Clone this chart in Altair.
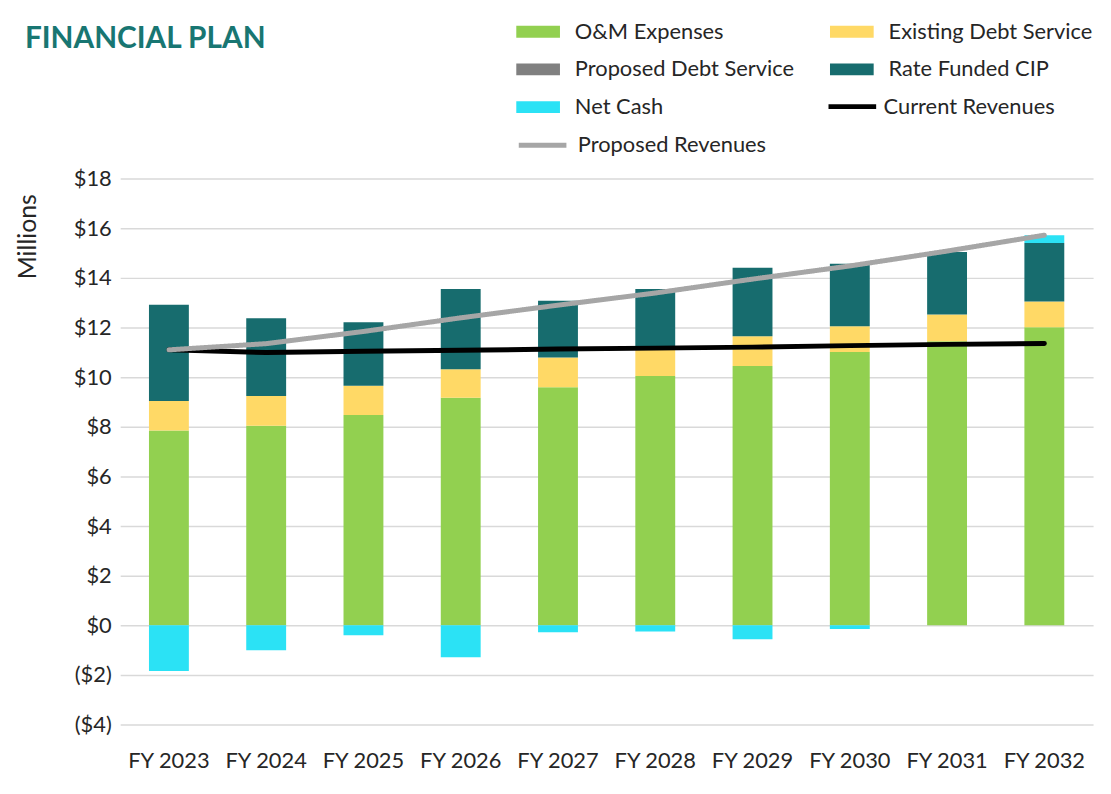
import altair as alt
import pandas as pd

years = ["FY 2023", "FY 2024", "FY 2025", "FY 2026", "FY 2027",
         "FY 2028", "FY 2029", "FY 2030", "FY 2031", "FY 2032"]

om_expenses = [7.85, 8.04, 8.47, 9.17, 9.59, 10.05, 10.45, 11.01, 11.45, 12.01]
existing_debt = [1.19, 1.20, 1.18, 1.15, 1.20, 1.08, 1.20, 1.04, 1.07, 1.04]
proposed_debt = [0, 0, 0, 0, 0, 0, 0, 0, 0, 0]
rate_funded_cip = [3.88, 3.13, 2.56, 3.23, 2.29, 2.42, 2.76, 2.52, 2.52, 2.36]
net_cash = [-1.84, -1.00, -0.40, -1.29, -0.28, -0.25, -0.56, -0.15, 0.0, 0.31]

current_revenues = [11.10, 10.99, 11.04, 11.08, 11.13, 11.17, 11.21, 11.27, 11.32, 11.36]
proposed_revenues = [11.10, 11.35, 11.84, 12.39, 12.90, 13.39, 13.95, 14.48, 15.08, 15.72]

series_names = ["O&M Expenses", "Existing Debt Service", "Proposed Debt Service",
                "Rate Funded CIP", "Net Cash"]
series_colors = ["#92D050", "#FFD966", "#808080", "#176C6E", "#2BE2F5"]
y_ticks = [-4, -2, 0, 2, 4, 6, 8, 10, 12, 14, 16, 18]

FONT = "Lato"
TEXT = "#262626"
LEG_FS = 22

rows = []
for i, yr in enumerate(years):
    for k, vals in enumerate([om_expenses, existing_debt, proposed_debt, rate_funded_cip, net_cash]):
        rows.append({"year": yr, "series": series_names[k], "value": vals[i], "order": k})
bars_df = pd.DataFrame(rows)
cur_df = pd.DataFrame({"year": years, "value": current_revenues, "series": "Current Revenues"})
prop_df = pd.DataFrame({"year": years, "value": proposed_revenues, "series": "Proposed Revenues"})

x_enc = alt.X("year:N", sort=years, title=None,
              scale=alt.Scale(paddingInner=0.59, paddingOuter=0.296),
              axis=alt.Axis(labelFont=FONT, labelFontSize=22, labelColor=TEXT, labelPadding=26,
                            ticks=False, domain=False, grid=False, labelAngle=0))
y_scale = alt.Scale(domain=[-4, 18], nice=False, zero=False)

bars = alt.Chart(bars_df).mark_bar().encode(
    x=x_enc,
    y=alt.Y("value:Q", stack="zero", scale=y_scale,
            axis=alt.Axis(values=y_ticks, title="Millions",
                          labelExpr="datum.value < 0 ? '($' + abs(datum.value) + ')' : '$' + datum.value",
                          labelFont=FONT, labelFontSize=22, labelColor=TEXT, labelPadding=9,
                          ticks=False, domain=False, grid=True, gridColor="#D9D9D9", gridWidth=1.5,
                          titleFont=FONT, titleFontSize=25, titleFontWeight="normal", titleColor=TEXT,
                          titleAngle=270, titleX=-93, titleY=58, titleAlign="center",
                          titleBaseline="middle")),
    fill=alt.Fill("series:N", scale=alt.Scale(domain=series_names, range=series_colors),
                  legend=alt.Legend(title=None, orient="none", legendX=410, legendY=-159,
                                    direction="horizontal", columns=2, columnPadding=36,
                                    rowPadding=16, padding=0, labelLimit=400,
                                    symbolType="M-2.2,-0.6H2.2V0.6H-2.2Z", symbolSize=400,
                                    symbolStrokeWidth=0, labelOffset=26,
                                    labelFont=FONT, labelFontSize=LEG_FS, labelColor=TEXT)),
    order=alt.Order("order:Q"),
)

cur_line = alt.Chart(cur_df).mark_line(strokeWidth=5, strokeCap="round").encode(
    x=alt.X("year:N", sort=years),
    y=alt.Y("value:Q", scale=y_scale),
    stroke=alt.Stroke("series:N", scale=alt.Scale(domain=["Current Revenues"], range=["#000000"]),
                      legend=alt.Legend(title=None, orient="none", legendX=711, legendY=-99,
                                        padding=0, symbolType="stroke", symbolSize=2304,
                                        symbolStrokeWidth=5, labelOffset=5, labelLimit=400,
                                        labelFont=FONT, labelFontSize=LEG_FS, labelColor=TEXT)),
)

prop_line = alt.Chart(prop_df).mark_line(strokeWidth=5, strokeCap="round", stroke="#A6A6A6").encode(
    x=alt.X("year:N", sort=years),
    y=alt.Y("value:Q", scale=y_scale),
    strokeDash=alt.StrokeDash("series:N", scale=alt.Scale(domain=["Proposed Revenues"], range=[[1, 0]]),
                              legend=alt.Legend(title=None, orient="none", legendX=399, legendY=-60,
                                                padding=0, symbolType="stroke", symbolSize=2304,
                                                symbolStrokeWidth=5, symbolStrokeColor="#A6A6A6",
                                                labelOffset=9, labelLimit=400,
                                                labelFont=FONT, labelFontSize=LEG_FS, labelColor=TEXT)),
)

chart = alt.layer(bars, cur_line, prop_line).resolve_scale(
    stroke="independent", strokeDash="independent"
).properties(
    width=980, height=550,
    title=alt.TitleParams("FINANCIAL PLAN", anchor="start", frame="group", font=FONT,
                          fontSize=30, fontWeight="bold", color="#187672",
                          dx=-96, dy=33, offset=0),
    autosize=alt.AutoSizeParams(type="none"),
    padding={"left": 113, "top": 169, "right": 10, "bottom": 60},
    background="white",
).configure_view(stroke=None)

chart.save("out.html", embed_options={"renderer": "svg", "actions": False})
